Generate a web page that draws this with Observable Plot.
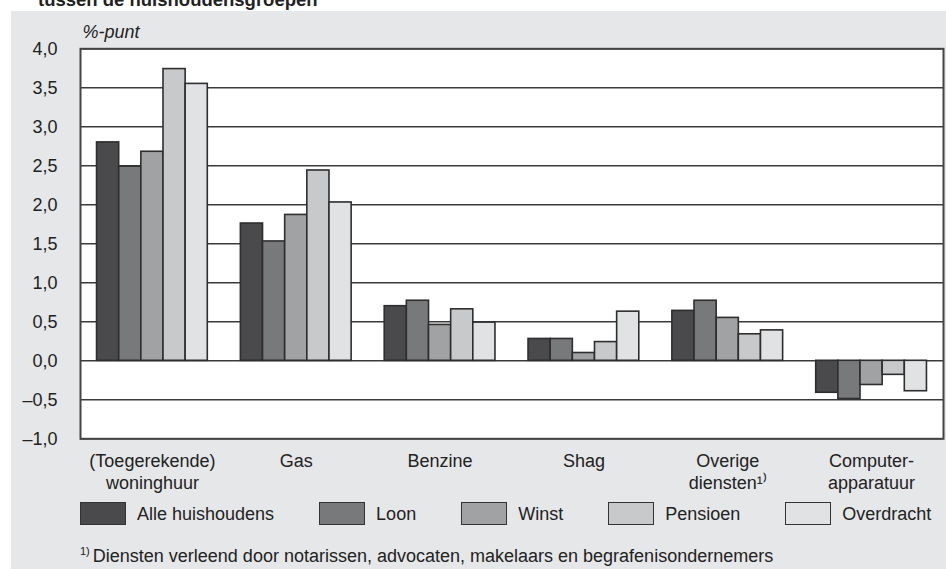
<!DOCTYPE html>
<html>
<head>
<meta charset="utf-8">
<script src="https://cdn.jsdelivr.net/npm/d3@7"></script>
<script src="https://cdn.jsdelivr.net/npm/@observablehq/plot@0.6"></script>
<style>
  html, body { margin: 0; padding: 0; background: #ffffff; }
  body { width: 946px; height: 569px; position: relative; overflow: hidden;
         font-family: "Liberation Sans", Arial, Helvetica, sans-serif; color: #222; }
  #title { position: absolute; left: 38px; top: -8.7px; font-size: 18.5px; line-height: 18.5px;
           font-weight: bold; color: #222; white-space: nowrap; }
  #panel { position: absolute; left: 11px; top: 11px; width: 935px; height: 558px; background: #e6e7e8; }
  #chart { position: absolute; left: 0; top: 0; }
  #legend { position: absolute; left: 69px; top: 490.7px; display: flex; align-items: center; gap: 45px;
            font-size: 18px; white-space: nowrap; }
  .item { display: flex; align-items: center; }
  .sw { width: 46px; height: 23px; box-sizing: border-box; border: 1.5px solid #333; }
  .lab { margin-left: 11px; position: relative; top: 1px; }
  #foot { position: absolute; left: 69px; top: 535.5px; font-size: 18px; line-height: 18px; white-space: nowrap; }
  #foot sup { font-size: 11px; vertical-align: 0; position: relative; top: -7px; margin-right: 3px; }
</style>
</head>
<body>
<div id="title">tussen de huishoudensgroepen</div>
<div id="panel">
  <div id="chart"></div>
  <div id="legend"></div>
  <div id="foot"><sup>1)</sup>Diensten verleend door notarissen, advocaten, makelaars en begrafenisondernemers</div>
</div>
<script>
// ---- data ----
const categories = ["(Toegerekende)\nwoninghuur", "Gas", "Benzine", "Shag", "Overige\ndiensten\u00B9\u207E", "Computer-\napparatuur"];
const series = ["Alle huishoudens", "Loon", "Winst", "Pensioen", "Overdracht"];
const alleHuishoudens = [2.80, 1.76, 0.70, 0.28, 0.64, -0.41];
const loon            = [2.49, 1.53, 0.77, 0.28, 0.77, -0.49];
const winst           = [2.68, 1.87, 0.46, 0.10, 0.55, -0.31];
const pensioen        = [3.74, 2.44, 0.66, 0.24, 0.34, -0.18];
const overdracht      = [3.55, 2.03, 0.49, 0.63, 0.39, -0.39];
const yTicks = [-1, -0.5, 0, 0.5, 1, 1.5, 2, 2.5, 3, 3.5, 4];
const yLabel = "%-punt";

// ---- styles ----
const colors = ["#4a4a4c", "#78797b", "#a1a2a4", "#c8c9cb", "#e1e2e4"];
const groupWidth = 0.77;

const seriesValues = [alleHuishoudens, loon, winst, pensioen, overdracht];
const barW = groupWidth / series.length;
const rows = [];
series.forEach((s, j) => {
  seriesValues[j].forEach((v, i) => {
    const x1 = i - groupWidth / 2 + j * barW;
    rows.push({cat: i, series: s, value: v, x1, x2: x1 + barW});
  });
});

const fmtY = d => (d < 0 ? "\u2013" : "") + Math.abs(d).toFixed(1).replace(".", ",");

const chart = Plot.plot({
  width: 935,
  height: 500,
  marginLeft: 69,
  marginRight: 3,
  marginTop: 37.3,
  marginBottom: 72.7,
  style: {background: "transparent", fontSize: "18px", fontFamily: "'Liberation Sans', Arial, Helvetica, sans-serif", color: "#222", overflow: "visible"},
  x: {type: "linear", domain: [-0.5, categories.length - 0.5], label: null},
  y: {domain: [-1, 4], label: null},
  color: {domain: series, range: colors},
  marks: [
    Plot.frame({fill: "white", stroke: "none"}),
    Plot.ruleY(yTicks, {stroke: "#3a3a3a", strokeWidth: 1.4}),
    Plot.rect(rows, {x1: "x1", x2: "x2", y1: d => 0, y2: "value", fill: "series", stroke: "#2e2e2e", strokeWidth: 1.6}),
    Plot.frame({stroke: "#444", strokeWidth: 2}),
    Plot.axisY({ticks: yTicks, tickFormat: fmtY, tickSize: 0, tickPadding: 23, label: null, fill: "#222"}),
    Plot.axisX({ticks: d3.range(categories.length), tickFormat: i => categories[i], tickSize: 0, tickPadding: 13, lineHeight: 1.22, label: null, fill: "#222"}),
    Plot.text([yLabel], {frameAnchor: "top-left", textAnchor: "start", lineAnchor: "middle", dx: 2, dy: -16.4, fontStyle: "italic", fill: "#222"})
  ]
});
document.getElementById("chart").appendChild(chart);

const legend = document.getElementById("legend");
series.forEach((s, j) => {
  const item = document.createElement("div");
  item.className = "item";
  const sw = document.createElement("div");
  sw.className = "sw";
  sw.style.background = colors[j];
  const lab = document.createElement("span");
  lab.className = "lab";
  lab.textContent = s;
  item.appendChild(sw);
  item.appendChild(lab);
  legend.appendChild(item);
});
</script>
</body>
</html>
